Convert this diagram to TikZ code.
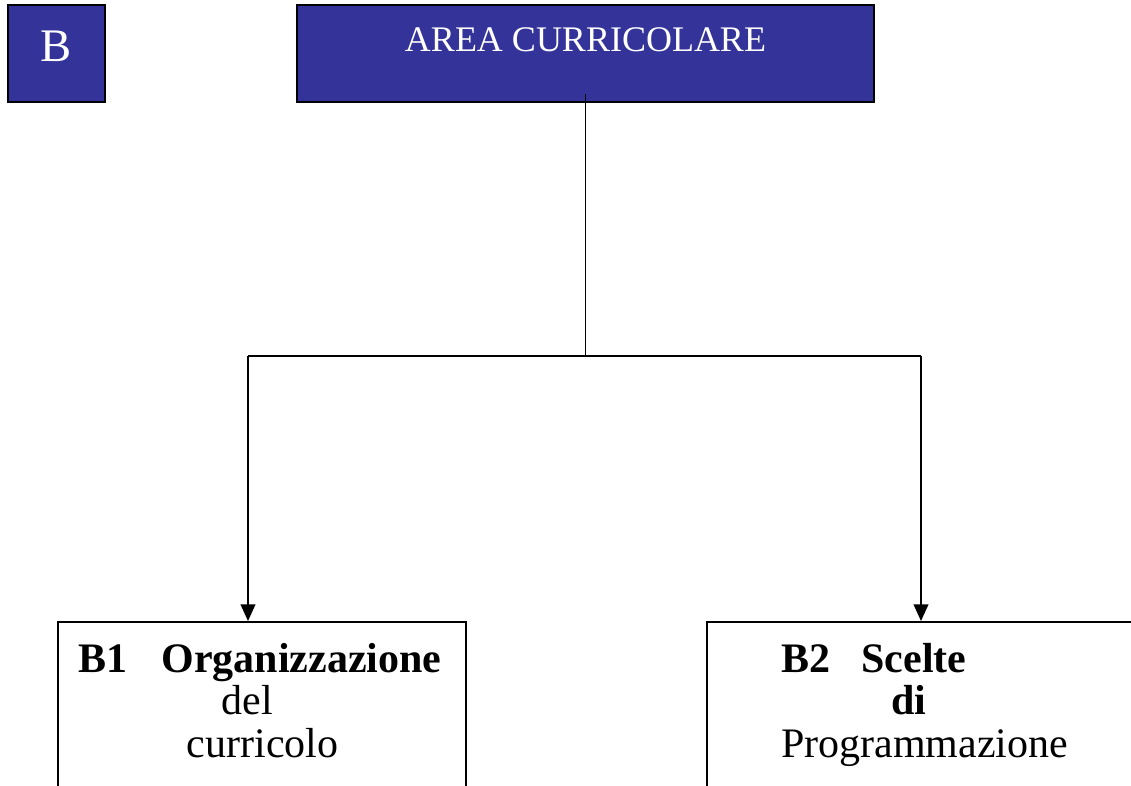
\documentclass[tikz,border=0pt]{standalone}
\usepackage{fontspec}
\setmainfont{Liberation Serif}
\usetikzlibrary{arrows.meta}
\definecolor{areablue}{RGB}{51,51,153}
\tikzset{
    bluebox/.style={draw=black,line width=1.5pt,fill=areablue,text=white,inner sep=0pt,minimum height=72.75pt},
    whitebox/.style={draw=black,line width=1.2pt,fill=white,anchor=north west,align=left,inner xsep=15.75pt,inner ysep=16pt,font=\fontsize{31.5}{32}\selectfont},
    link/.style={draw=black,line width=1.4pt},
    arrowlink/.style={link,-{Triangle[length=12.5pt,width=11pt]}}
}

\begin{document}
\begin{tikzpicture}[x=0.75pt,y=-0.75pt]
    \clip (0,0) rectangle (1131,785);
    \node[bluebox,minimum width=72.75pt,text depth=11pt,font=\fontsize{35}{35}\selectfont] (blockB) at (56.5,53.5) {B};
    \node[bluebox,minimum width=432.75pt,text depth=21pt,font=\fontsize{27}{27}\selectfont] (area) at (585.5,53.5) {AREA CURRICOLARE};
    \node[whitebox,text width=274.5pt] (bone) at (57,621) {\textbf{B1\hspace{0.8em}Organizzazione}\\\hspace*{107pt}del\\\hspace*{81pt}curricolo\\[40pt]\mbox{}};
    \node[whitebox,text width=330pt] (btwo) at (706,621) {\hspace*{40pt}\textbf{B2\hspace{0.75em}Scelte}\\\hspace*{122.5pt}\textbf{di}\\\hspace*{40pt}Programmazione\\[40pt]\mbox{}};
    \coordinate (fork) at (585.5,356);
    \coordinate (forkleft) at (248,356);
    \coordinate (forkright) at (921,356);
    \draw[link] ([yshift=6.75pt]area.south) -- (fork);
    \draw[link] (forkleft) -- (forkright);
    \draw[arrowlink] (forkleft) -- (forkleft |- bone.north);
    \draw[arrowlink] (forkright) -- (forkright |- btwo.north);
\end{tikzpicture}
\end{document}
